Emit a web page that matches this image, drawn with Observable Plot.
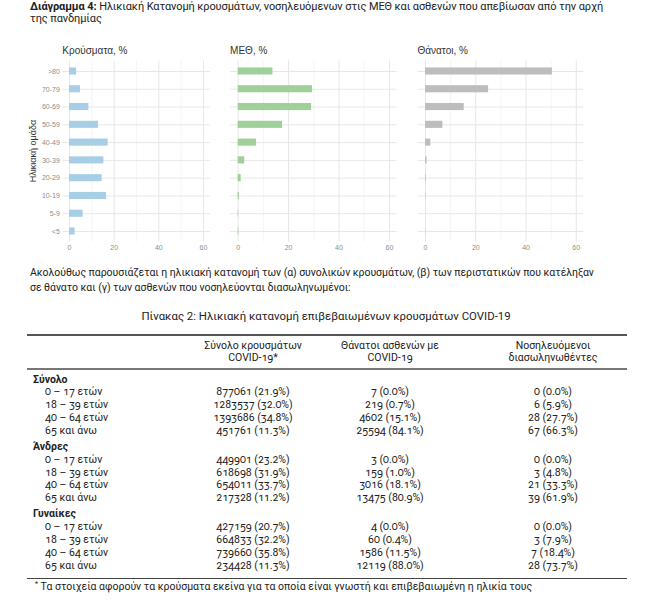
<!DOCTYPE html>
<html>
<head>
<meta charset="utf-8">
<script src="https://cdn.jsdelivr.net/npm/d3@7"></script>
<script src="https://cdn.jsdelivr.net/npm/@observablehq/plot@0.6"></script>
<style>
  body { margin: 0; background: #fff; }
  #page { position: relative; width: 650px; height: 603px; overflow: hidden; font-family: Roboto, "Noto Sans", sans-serif; color: #222; }
  .abs { position: absolute; white-space: nowrap; }
  .ptitle { font-family: "Liberation Sans", Arial, sans-serif; font-size: 10px; line-height: 12px; color: #333; }
  #tbl { position: absolute; left: 27px; top: 334px; width: 600px; border-collapse: collapse; table-layout: fixed; font-size: 10.5px; font-variant-numeric: oldstyle-nums; }
  #tbl th { font-weight: normal; height: 32px; line-height: 12px; padding: 0; vertical-align: middle; text-align: center; border-top: 2px solid #555; border-bottom: 2px solid #777; }
  #tbl td { padding: 0; height: 12.8px; line-height: 12.8px; text-align: center; white-space: nowrap; }
  #tbl td.lab { text-align: left; padding-left: 18px; }
  #tbl tr.grp td { font-weight: bold; text-align: left; padding-left: 6px; padding-top: 3.5px; }
  #tbl tr.last td { padding-bottom: 6px; border-bottom: 1.5px solid #444; }
  #tbl .c3 { padding-left: 20px; }
  #ylab { position: absolute; left: -7px; top: 146px; width: 80px; height: 10px; line-height: 10px; text-align: center;
          font-family: "Liberation Sans", Arial, sans-serif; font-size: 9px; color: #333; transform: rotate(-90deg); transform-origin: 40px 5px; white-space: nowrap; }
</style>
</head>
<body>
<div id="page"></div>
<script>
// ---------- chart data ----------
const ageGroups = [">80", "70-79", "60-69", "50-59", "40-49", "30-39", "20-29", "10-19", "5-9", "<5"];
const casesPct  = [3.2, 4.9, 8.7, 13.0, 17.3, 15.4, 14.6, 16.6, 6.1, 2.5];
const icuPct    = [13.8, 29.5, 29.1, 17.6, 7.3, 2.6, 1.2, 0.5, 0.2, 0.3];
const deathsPct = [50.5, 25.1, 15.4, 6.9, 2.1, 0.6, 0.3, 0.15, 0, 0.1];
const panelTitles = ["Κρούσματα, %", "ΜΕΘ, %", "Θάνατοι, %"];
const panelColors = ["#a6cfe6", "#9fd09a", "#bdbdbd"];
const xTicks = [0, 20, 40, 60];
const xMinorTicks = [10, 30, 50];
const yAxisTitle = "Ηλικιακή ομάδα";

// ---------- table data ----------
const tableHeaders = [["Σύνολο κρουσμάτων", "COVID-19*"], ["Θάνατοι ασθενών με", "COVID-19"], ["Νοσηλευόμενοι", "διασωληνωθέντες"]];
const tableGroups = ["Σύνολο", "Άνδρες", "Γυναίκες"];
const tableAgeBands = ["0 – 17 ετών", "18 – 39 ετών", "40 – 64 ετών", "65 και άνω"];
const totalCounts = [[877061, 7, 0], [1283537, 219, 6], [1393686, 4602, 28], [451761, 25594, 67]];
const totalPcts   = [[21.9, 0.0, 0.0], [32.0, 0.7, 5.9], [34.8, 15.1, 27.7], [11.3, 84.1, 66.3]];
const menCounts   = [[449901, 3, 0], [618698, 159, 3], [654011, 3016, 21], [217328, 13475, 39]];
const menPcts     = [[23.2, 0.0, 0.0], [31.9, 1.0, 4.8], [33.7, 18.1, 33.3], [11.2, 80.9, 61.9]];
const womenCounts = [[427159, 4, 0], [664833, 60, 3], [739660, 1586, 7], [234428, 12119, 28]];
const womenPcts   = [[20.7, 0.0, 0.0], [32.2, 0.4, 7.9], [35.8, 11.5, 18.4], [11.3, 88.0, 73.7]];

const diagramLabel = "Διάγραμμα 4:";
const diagramTitle1 = " Ηλικιακή Κατανομή κρουσμάτων, νοσηλευόμενων στις ΜΕΘ και ασθενών που απεβίωσαν από την αρχή";
const diagramTitle2 = "της πανδημίας";
const paraLine1 = "Ακολούθως παρουσιάζεται η ηλικιακή κατανομή των (α) συνολικών κρουσμάτων, (β) των περιστατικών που κατέληξαν";
const paraLine2 = "σε θάνατο και (γ) των ασθενών που νοσηλεύονται διασωληνωμένοι:";
const tableTitle = "Πίνακας 2: Ηλικιακή κατανομή επιβεβαιωμένων κρουσμάτων COVID-19";
const footnote = "Τα στοιχεία αφορούν τα κρούσματα εκείνα για τα οποία είναι γνωστή και επιβεβαιωμένη η ηλικία τους";

const page = document.getElementById("page");
function addDiv(html, css, cls = "abs") {
  const d = document.createElement("div");
  d.className = cls;
  d.innerHTML = html;
  Object.assign(d.style, css);
  page.appendChild(d);
  return d;
}

// Title
addDiv(`<b>${diagramLabel}</b>${diagramTitle1}<br>${diagramTitle2}`,
  {left: "30px", top: "1px", fontSize: "11px", lineHeight: "12px", letterSpacing: "-0.1px"});

// ---------- panels ----------
const panels = [
  {values: casesPct, left: 0, width: 215, marginLeft: 62.3, marginRight: 5.3, showY: true},
  {values: icuPct, left: 215, width: 185, marginLeft: 15.1, marginRight: 3.5, showY: false},
  {values: deathsPct, left: 400, width: 200, marginLeft: 17.5, marginRight: 16.7, showY: false}
];

panels.forEach((p, k) => {
  const data = ageGroups.map((a, i) => ({age: a, value: p.values[i]}));
  const chart = Plot.plot({
    width: p.width,
    height: 220,
    marginTop: 20.3,
    marginBottom: 18.3,
    marginLeft: p.marginLeft,
    marginRight: p.marginRight,
    style: {background: "transparent", fontSize: "7px", fontFamily: "'Liberation Sans', Arial, sans-serif", color: "#8c8c8c", overflow: "visible"},
    x: {domain: [-3, 63], ticks: xTicks, tickSize: 0, tickPadding: 3, label: null},
    y: p.showY
      ? {domain: ageGroups, paddingInner: 0.6, paddingOuter: 0.4, round: false, tickSize: 0, tickPadding: 3, label: null}
      : {domain: ageGroups, paddingInner: 0.6, paddingOuter: 0.4, round: false, axis: null},
    marks: [
      Plot.ruleX(xMinorTicks, {stroke: "#f0f0f0", strokeWidth: 0.7}),
      Plot.ruleX(xTicks, {stroke: "#e7e7e7", strokeWidth: 1}),
      Plot.ruleY(ageGroups, {stroke: "#e7e7e7", strokeWidth: 1}),
      Plot.barX(data, {x: "value", y: "age", fill: panelColors[k]})
    ]
  });
  chart.style.position = "absolute";
  chart.style.left = p.left + "px";
  chart.style.top = "40px";
  page.appendChild(chart);
  addDiv(panelTitles[k], {left: (p.left + p.marginLeft) + "px", top: "44.5px"}, "abs ptitle");
});

// y axis title (rotated)
const yl = document.createElement("div");
yl.id = "ylab";
yl.textContent = yAxisTitle;
page.appendChild(yl);

// paragraph
addDiv(`${paraLine1}<br>${paraLine2}`, {left: "30px", top: "265px", fontSize: "10.5px", lineHeight: "15px", letterSpacing: "-0.05px"});

// table title
addDiv(tableTitle, {left: "326px", top: "309px", fontSize: "11.4px", lineHeight: "14px", transform: "translateX(-50%)"});

// ---------- table ----------
const fmt = (n, p) => `${n} (${p.toFixed(1)}%)`;
const groupsData = [[totalCounts, totalPcts], [menCounts, menPcts], [womenCounts, womenPcts]];
let html = `<colgroup><col style="width:158px"><col style="width:136px"><col style="width:138px"><col style="width:168px"></colgroup>`;
html += `<thead><tr><th></th>` + tableHeaders.map((h, j) => `<th class="${j === 2 ? "c3" : ""}">${h[0]}<br>${h[1]}</th>`).join("") + `</tr></thead><tbody>`;
groupsData.forEach(([counts, pcts], g) => {
  html += `<tr class="grp"><td colspan="4">${tableGroups[g]}</td></tr>`;
  tableAgeBands.forEach((band, r) => {
    const last = g === groupsData.length - 1 && r === tableAgeBands.length - 1;
    html += `<tr class="${last ? "last" : ""}"><td class="lab">${band}</td>` +
      counts[r].map((c, j) => `<td class="${j === 2 ? "c3" : ""}">${fmt(c, pcts[r][j])}</td>`).join("") + `</tr>`;
  });
});
html += `</tbody>`;
const tbl = document.createElement("table");
tbl.id = "tbl";
tbl.innerHTML = html;
page.appendChild(tbl);

// footnote
addDiv(`<span style="font-size:7px;position:relative;top:-4px;line-height:0">*</span> ${footnote}`, {left: "35px", top: "580px", fontSize: "10.5px", lineHeight: "14px"});
</script>
</body>
</html>
